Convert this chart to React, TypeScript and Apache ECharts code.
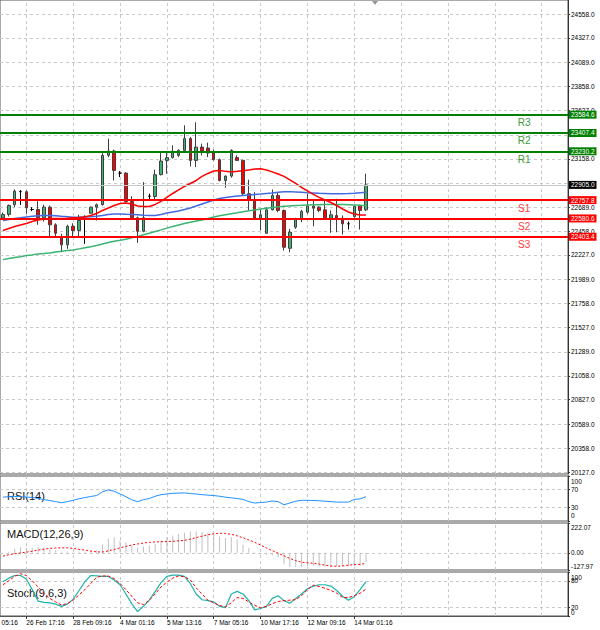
import React, { useEffect, useRef } from "react";
import * as echarts from "echarts";

// ---------- data ----------
const timeLabels = ["26 Feb 17:16", "28 Feb 09:16", "4 Mar 01:16", "5 Mar 13:16", "7 Mar 05:16", "10 Mar 17:16", "12 Mar 09:16", "14 Mar 01:16"];
const hiddenLabel = "25 Feb 05:16";
const priceTicks = [24558, 24327, 24089, 23858, 23627, 23389, 23158, 22920, 22689, 22458, 22227, 21989, 21758, 21527, 21289, 21058, 20827, 20589, 20358, 20127];
const levelNames = ["R3", "R2", "R1", "S1", "S2", "S3"];
const levelValues = [23584.6, 23407.4, 23230.2, 22757.8, 22580.6, 22403.4];
const rsiRange = [0, 100];
const rsiTicks = [30, 70];
const macdRange = [-127.97, 222.07];
const macdTicks = [0];
const stochRange = [0, 100];
const stochTicks = [20, 80];

const opens = [22585,22619,22713,22840,22839,22667,22667,22587,22690,22519,22405,22325,22505,22464,22600,22631,22690,22713,23191,23233,23019,23019,22745,22587,22457,22796,22793,23004,23142,23169,23191,23239,23353,23142,23271,23262,23213,23149,22948,22990,23169,23142,22820,22761,22583,22437,22664,22803,22658,22292,22496,22570,22641,22699,22690,22664,22583,22609,22583,22529,22599,22706,22664];
const closes = [22619,22706,22845,22840,22684,22667,22587,22690,22519,22437,22325,22505,22464,22561,22600,22690,22713,23191,23233,23045,23019,22745,22587,22457,22587,22796,23004,23136,23169,23230,23239,23353,23142,23271,23223,23213,23149,22948,22990,23239,23142,22820,22761,22583,22616,22664,22803,22658,22302,22447,22570,22648,22699,22680,22658,22583,22616,22583,22529,22529,22696,22658,22905];
const lows = [22570,22599,22690,22711,22626,22651,22519,22551,22405,22405,22253,22286,22405,22405,22335,22626,22561,22706,23174,22948,22980,22732,22577,22344,22447,22761,22761,22997,23013,23159,23174,23223,23084,23077,23191,23174,23142,22939,22878,22975,23136,22803,22658,22577,22464,22432,22658,22641,22270,22253,22480,22544,22626,22505,22641,22577,22441,22447,22425,22473,22587,22473,22651];
const highs = [22638,22716,22861,22856,22852,22690,22748,22713,22706,22534,22432,22519,22534,22616,22609,22696,22725,23230,23353,23246,23039,23029,22796,22599,22932,22820,23052,23223,23223,23288,23249,23482,23368,23511,23304,23314,23246,23159,22997,23249,23191,23149,22955,22835,22664,22690,22861,22835,22667,22480,22587,22664,22820,22754,22699,22754,22658,22771,22609,22551,22706,22713,23013];

const maRed = [22464,22483,22502,22517,22531,22551,22565,22575,22580,22580,22580,22582,22587,22590,22595,22609,22628,22658,22682,22706,22725,22730,22721,22701,22696,22696,22716,22745,22784,22822,22856,22890,22919,22948,22987,23016,23039,23045,23036,23031,23036,23042,23050,23060,23062,23050,23031,23011,22987,22953,22919,22880,22847,22813,22784,22759,22735,22706,22672,22643,22624,22614,22614];
const maBlue = [22561,22570,22580,22587,22595,22601,22606,22609,22609,22606,22601,22597,22593,22593,22595,22597,22601,22609,22619,22624,22624,22621,22619,22616,22612,22609,22609,22619,22633,22643,22653,22667,22682,22701,22721,22740,22759,22774,22784,22791,22798,22803,22808,22813,22817,22822,22827,22834,22839,22840,22837,22834,22830,22827,22824,22822,22820,22820,22820,22822,22825,22830,22835];
const maGreen = [22182,22192,22202,22211,22221,22228,22236,22241,22247,22255,22263,22270,22276,22286,22296,22306,22318,22333,22347,22359,22369,22380,22394,22407,22422,22438,22454,22470,22487,22502,22517,22531,22543,22555,22565,22580,22595,22606,22617,22627,22636,22646,22655,22662,22671,22679,22687,22693,22698,22702,22705,22708,22711,22713,22714,22715,22716,22716,22715,22713,22710,22707,22704];

const rsi = [53,54,54.5,54,53,52.5,50,47.5,45.5,43,40.5,43,46,49.5,52,54.5,56.5,65,69,66,60,54,47,43,47.5,50,55,58.5,60,61.5,62,62.5,61,60,58.5,57.5,56.5,55,53,51.5,50,48,43,40,41,42,44.5,43,36,40,44,46,46,45.5,45,44,43,42,42,42,48,49,54];
const macdMain = [2,8,30,42,37,37,42,42,25,20,8,12,5,8,10,15,20,62,104,116,92,79,54,37,47,54,67,92,116,129,141,150,156,159,156,150,141,122,110,118,100,60,35,5,-10,-15,-20,-35,-85,-105,-108,-104,-100,-98,-100,-104,-106,-102,-104,-100,-98,-97,-70];
const macdSignal = [-24,-15,-7,-1,5,12,20,27,33,36,37,37,33,26,20,13,7,6,14,25,37,48,58,66,73,78,81,83,84,86,89,93,102,113,124,134,142,146,144,138,126,112,96,78,58,36,16,-3,-22,-42,-58,-70,-74,-78,-84,-92,-99,-100,-97,-92,-88,-86,-78];
const stochMain = [78,86,92,92,84,60,34,31,30,27,22,27,38,58,78,92,91,90,90,82,71,50,28,10,22,36,56,76,90,93,93,90,74,50,37,35,32,22,19,50,56,50,35,14,17,22,40,46,35,29,40,50,62,68,71,71,68,58,45,36,44,60,78];
const stochSignal = [71,80,90,96,92,80,66,52,40,32,25,28,36,48,60,74,88,91,91,85,74,60,45,30,26,36,50,66,77,86,91,89,82,64,50,36,30,24,21,30,42,40,32,24,19,22,28,33,35,36,37,46,60,70,67,63,58,52,42,42,46,52,61];

// ---------- layout ----------
const SLOTS = 97;
const LABEL_START = 4;
const LABEL_STEP = 8;
const NAME_SLOT = 89;
const GRID_RIGHT = 32;
const FONT = '"Liberation Sans", Arial, sans-serif';
const AX = 6.5;

export default function App() {
  const ref = useRef<HTMLDivElement>(null);
  useEffect(() => {
    const el = ref.current!;
    const chart = echarts.init(el, null, { renderer: "svg" });
    const cats = Array.from({ length: SLOTS }, (_, i) => String(i));
    const labelAt = (i: number) => {
      const k = (i - LABEL_START) / LABEL_STEP;
      return Number.isInteger(k) && k >= 0 && k < timeLabels.length ? timeLabels[k] : null;
    };
    const vSlots = cats.map((_, i) => i).filter((i) => i >= LABEL_START && (i - LABEL_START) % LABEL_STEP === 0);
    const band = (600 - GRID_RIGHT) / SLOTS;

    const gridDefs = [
      { top: 0, height: 474 },
      { top: 476, height: 45 },
      { top: 523, height: 47 },
      { top: 572, height: 44 },
    ];
    const grid = gridDefs.map((g) => ({
      ...g, left: 0, right: GRID_RIGHT, show: true, borderColor: "#555", borderWidth: 1,
      containLabel: false, outerBoundsMode: "none",
    }));

    const xAxis = gridDefs.map((_, k) => {
      const last = k === gridDefs.length - 1;
      return {
        type: "category", gridIndex: k, data: cats, boundaryGap: true,
        axisLine: { show: last, lineStyle: { color: "#555" } },
        axisTick: {
          show: last, alignWithLabel: true, length: 3,
          interval: (i: number) => labelAt(i) !== null, lineStyle: { color: "#333" },
        },
        axisLabel: {
          show: last, interval: (i: number) => labelAt(i) !== null,
          formatter: (_v: string, i: number) => labelAt(i) ?? "",
          align: "left", margin: 3, fontSize: AX, color: "#000", fontFamily: FONT,
        },
        splitLine: { show: false },
      };
    });

    const yBase = (k: number, range: number[], ticks: number[], fmt: any, rich?: any) => ({
      type: "value", gridIndex: k, position: "right", min: range[0], max: range[1],
      axisLine: { show: true, lineStyle: { color: "#333" } },
      axisTick: { show: true, length: 2, customValues: ticks, lineStyle: { color: "#333" } },
      axisLabel: {
        customValues: ticks, formatter: fmt, fontSize: AX, color: "#000", margin: 3, fontFamily: FONT, rich,
        showMinLabel: true, showMaxLabel: true, hideOverlap: false,
      },
      splitLine: { show: false },
    });
    // edge labels (panel max drawn just inside the top, min just inside the bottom)
    const edgeAxis = (k: number, range: number[], digits: number, tp: number, bp: number) =>
      yBase(k, range, range, (v: number) => (v === range[1] ? `{t|${v.toFixed(digits)}}` : `{b|${v.toFixed(digits)}}`), {
        t: { padding: [tp, 0, 0, 0], fontSize: AX, color: "#000", fontFamily: FONT },
        b: { padding: [0, 0, bp, 0], fontSize: AX, color: "#000", fontFamily: FONT },
      });
    const yAxis = [
      yBase(0, [20108, 24694], priceTicks, (v: number) => v.toFixed(1)),
      yBase(1, rsiRange, rsiTicks, (v: number) => v.toFixed(0)),
      yBase(2, macdRange, macdTicks, (v: number) => v.toFixed(2)),
      yBase(3, stochRange, stochTicks, (v: number) => v.toFixed(0)),
      edgeAxis(1, rsiRange, 0, 10, 12),
      edgeAxis(2, macdRange, 2, 8, 8),
      edgeAxis(3, stochRange, 0, 10, 8),
    ];

    const gridLineSeries = (k: number, hVals: number[]) => ({
      type: "line", xAxisIndex: k, yAxisIndex: k, data: [], silent: true, z: 1,
      markLine: {
        silent: true, z: 1, symbol: ["none", "none"], label: { show: false },
        lineStyle: { color: "#c8c8c8", type: [3, 3], width: 1 },
        data: [...hVals.map((v) => ({ yAxis: v })), ...vSlots.map((i) => ({ xAxis: i }))],
      },
    });

    const lastClose = closes[closes.length - 1];
    const candleData = opens.map((o, i) => [o, closes[i], lows[i], highs[i]]);
    const levelColor = (k: number) => (k < 3 ? "#008000" : "#ff0000");
    const nameColor = (k: number) => (k < 3 ? "#3a9a3a" : "#ff3a3a");

    const lineS = (k: number, data: number[], color: string, width: number, type: any = "solid", z = 3) => ({
      type: "line", xAxisIndex: k, yAxisIndex: k, data, symbol: "none", silent: true, z,
      lineStyle: { color, width, type },
    });

    const option: any = {
      animation: false,
      backgroundColor: "#fff",
      textStyle: { fontFamily: FONT },
      grid, xAxis, yAxis,
      series: [
        gridLineSeries(0, priceTicks),
        gridLineSeries(1, rsiTicks),
        gridLineSeries(2, macdTicks),
        gridLineSeries(3, stochTicks),
        {
          type: "candlestick", xAxisIndex: 0, yAxisIndex: 0, z: 2, barWidth: 3, silent: true,
          data: candleData,
          itemStyle: {
            color: "#3cb371", color0: "#ff0000", borderColor: "#404040", borderColor0: "#404040",
            borderColorDoji: "#000", borderWidth: 1,
          },
          markLine: {
            silent: true, symbol: ["none", "none"],
            label: {
              show: true, position: "end", distance: 1, color: "#fff", fontSize: AX, fontFamily: FONT,
              padding: [1, 2, 0, 2], formatter: (p: any) => Number(p.value).toFixed(1),
            },
            data: [
              { yAxis: lastClose, lineStyle: { color: "#c8c8c8", width: 1, type: "solid" }, label: { backgroundColor: "#000" } },
              ...levelValues.map((v, k) => ({
                yAxis: v, lineStyle: { color: levelColor(k), width: 2, type: "solid" },
                label: { backgroundColor: levelColor(k) },
              })),
            ],
          },
          markPoint: {
            silent: true, symbol: "rect", symbolSize: 1, itemStyle: { color: "rgba(0,0,0,0)" },
            label: { show: true, position: "inside", offset: [0, 8], formatter: "{b}", fontSize: 10, fontFamily: FONT },
            data: levelNames.map((n, k) => ({
              name: n, coord: [NAME_SLOT, levelValues[k]], label: { color: nameColor(k) },
            })),
          },
        },
        lineS(0, maGreen, "#3cb371", 1.5),
        lineS(0, maBlue, "#4169e1", 1.5),
        lineS(0, maRed, "#ff0000", 1.5),
        lineS(1, rsi, "#1e90ff", 1),
        {
          type: "bar", xAxisIndex: 2, yAxisIndex: 2, data: macdMain, barWidth: 1, silent: true, z: 2,
          itemStyle: { color: "#c0c0c0" },
        },
        lineS(2, macdSignal, "#ff0000", 1, [2, 2]),
        lineS(3, stochMain, "#20b2aa", 1.2),
        lineS(3, stochSignal, "#ff0000", 1, [3, 2]),
      ],
      graphic: [
        { type: "text", x: 7, y: 496, silent: true, style: { text: "RSI(14)", fill: "#111", fontSize: 11, fontFamily: FONT, verticalAlign: "middle" } },
        { type: "text", x: 7, y: 534, silent: true, style: { text: "MACD(12,26,9)", fill: "#111", fontSize: 11, fontFamily: FONT, verticalAlign: "middle" } },
        { type: "text", x: 7, y: 593, silent: true, style: { text: "Stoch(9,6,3)", fill: "#111", fontSize: 11, fontFamily: FONT, verticalAlign: "middle" } },
        { type: "text", x: band / 2 - LABEL_START * band, y: 619, silent: true, style: { text: hiddenLabel, fill: "#000", fontSize: AX, fontFamily: FONT, verticalAlign: "top" } },
        { type: "polygon", silent: true, shape: { points: [[372, 1], [378, 1], [375, 5]] }, style: { fill: "#999" } },
      ],
    };
    chart.setOption(option);
    return () => chart.dispose();
  }, []);
  return <div ref={ref} style={{ position: "fixed", left: 0, top: 0, width: 600, height: 630, background: "#fff" }} />;
}
